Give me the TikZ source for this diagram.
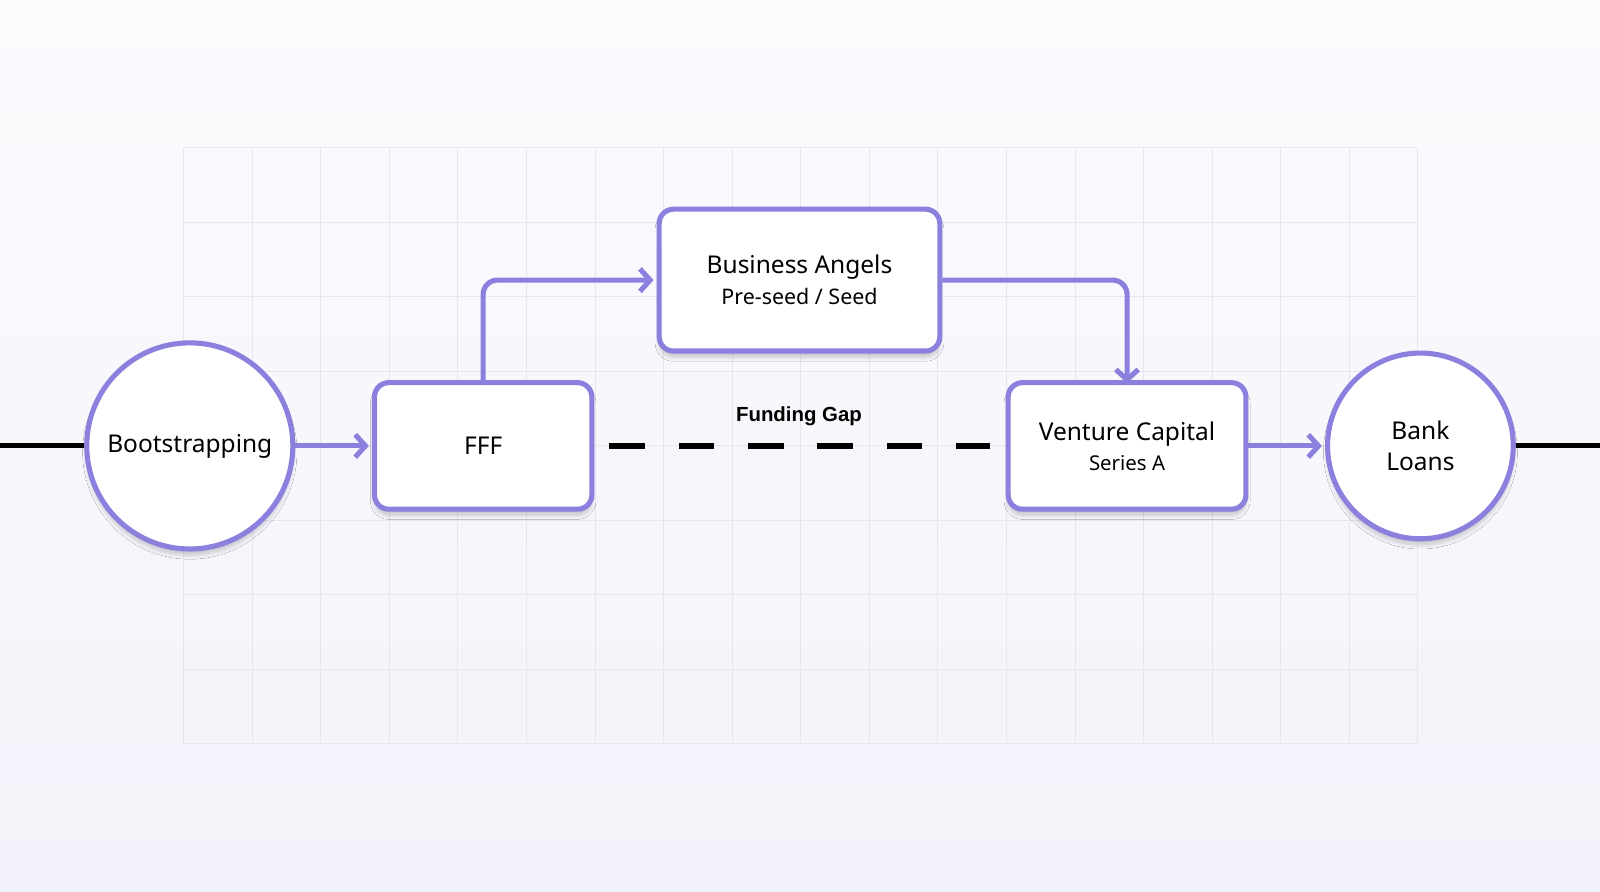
\documentclass[tikz,border=0pt]{standalone}
\usepackage{fontspec}
\setmainfont{Noto Sans}
\newfontfamily\gapfont{Liberation Sans Bold}
\usetikzlibrary{arrows.meta,shadows.blur}
\definecolor{pur}{HTML}{8B80DD}
\definecolor{bgA}{HTML}{FBFBFE}
\definecolor{bgB}{HTML}{F2F2FA}
\definecolor{gridc}{HTML}{E6E6F0}
\begin{document}
\begin{tikzpicture}[x=1pt,y=-1pt,
  box/.style={draw=pur,line width=5pt,fill=white,rounded corners=14pt,blur shadow={shadow blur steps=8,shadow yshift=-6pt,shadow xshift=0pt,shadow opacity=20,shadow blur radius=4pt}},
  circ/.style={draw=pur,line width=5pt,fill=white,circle,blur shadow={shadow blur steps=8,shadow yshift=-6pt,shadow xshift=0pt,shadow opacity=20,shadow blur radius=4pt}},
  arr/.style={draw=pur,line width=5pt,rounded corners=14pt,-{Straight Barb[length=10pt,width=22pt,line width=5pt]}},
  title/.style={font=\fontsize{24}{28}\selectfont}]
\useasboundingbox (0,0) rectangle (1568,874);
\shade[top color=bgA,bottom color=bgB] (0,0) rectangle (1568,874);
% grid
\foreach \x in {180,247.2,...,1390}{\draw[gridc,line width=1pt] (\x,145) -- (\x,730);}
\foreach \y in {145,218,...,731}{\draw[gridc,line width=1pt] (180,\y) -- (1389,\y);}
% nodes
\node[circ,minimum size=202pt,inner sep=0pt,title] (boot) at (186,437) {Bootstrapping};
\node[box,minimum width=213pt,minimum height=124pt,title] (fff) at (473.5,437) {FFF};
\node[box,minimum width=275pt,minimum height=139pt,align=center] (ba) at (783.5,274.5) {{\fontsize{24}{28}\selectfont Business Angels}\\[8pt]{\fontsize{21}{24}\selectfont Pre-seed / Seed}};
\node[box,minimum width=233pt,minimum height=124pt,align=center] (vc) at (1104.5,437) {{\fontsize{24}{28}\selectfont Venture Capital}\\[8pt]{\fontsize{20}{24}\selectfont Series A}};
\node[circ,minimum size=182pt,inner sep=0pt,align=center,font=\fontsize{24}{31}\selectfont] (bank) at (1392,437) {Bank\\Loans};
\node[font=\gapfont\fontsize{20}{24}\selectfont] (gap) at (783,408) {Funding Gap};
\coordinate (L) at (0,437);
\coordinate (R) at (1568,437);
\coordinate (d1) at (597,437);
\coordinate (d2) at (970,437);
% lines
\draw[black,line width=5pt] (L) -- (boot.west);
\draw[black,line width=5pt] (bank.east) -- (R);
\draw[black,line width=6pt,dash pattern=on 35pt off 33pt] (d1) -- (d2);
\draw[arr] (boot.east) -- ([xshift=-3pt]fff.west);
\draw[arr] (fff.north) |- ([xshift=-3pt]ba.west);
\draw[arr] (ba.east) -| ([yshift=-3pt]vc.north);
\draw[arr] (vc.east) -- ([xshift=-3pt]bank.west);
\end{tikzpicture}
\end{document}
